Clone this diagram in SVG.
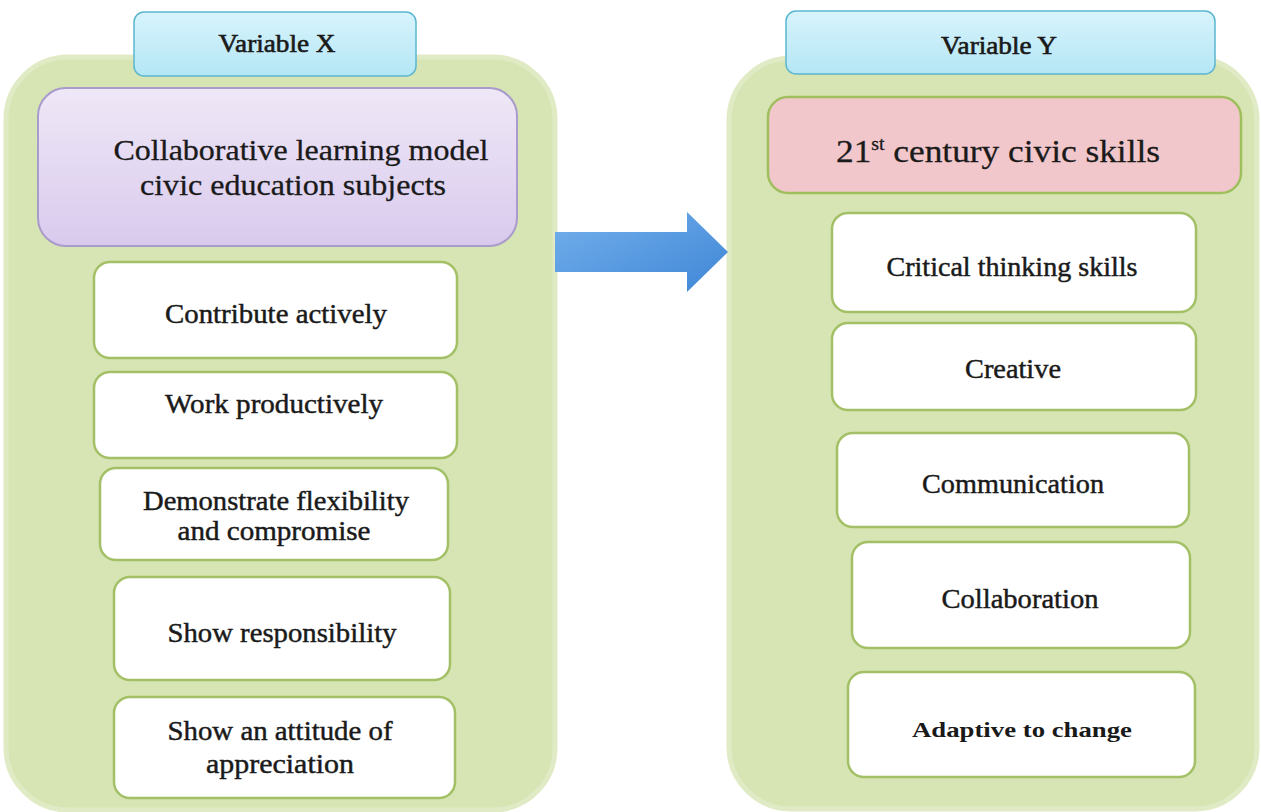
<svg xmlns="http://www.w3.org/2000/svg" width="1261" height="812" viewBox="0 0 1261 812">
  <defs>
    <linearGradient id="gPurple" x1="0" y1="0" x2="0" y2="1">
      <stop offset="0" stop-color="#efe8f7"/>
      <stop offset="1" stop-color="#d9caed"/>
    </linearGradient>
    <linearGradient id="gBlue" x1="0" y1="0" x2="0" y2="1">
      <stop offset="0" stop-color="#d8f4fc"/>
      <stop offset="1" stop-color="#b4e6f5"/>
    </linearGradient>
    <linearGradient id="gArrow" x1="0" y1="0" x2="1" y2="1">
      <stop offset="0" stop-color="#74b0ec"/>
      <stop offset="1" stop-color="#3f86d6"/>
    </linearGradient>
    <style>
      .cont { fill: #d6e5b3; stroke: #e0ebc6; stroke-width: 5; }
      .box { fill: #ffffff; stroke: #a3c066; stroke-width: 2.5; }
      .hdr { fill: url(#gBlue); stroke: #5bb6d0; stroke-width: 1.5; }
      .main { fill: url(#gPurple); stroke: #a99bcb; stroke-width: 2; }
      .pink { fill: #f2c7cb; stroke: #9fbf5e; stroke-width: 2.5; }
      text { font-family: "Liberation Serif", "DejaVu Serif", serif; fill: #1a1a1a; text-anchor: middle; stroke: #1a1a1a; stroke-width: 0.45; }
      .t27 { font-size: 27px; }
      .t29 { font-size: 29px; stroke-width: 0.3; }
      .t25 { font-size: 25px; stroke-width: 0.6; }
    </style>
  </defs>
  <rect width="1261" height="812" fill="#ffffff"/>

  <g id="containerX">
    <rect class="cont" x="6" y="57" width="549" height="753" rx="62"/>
  </g>
  <g id="containerY">
    <rect class="cont" x="729" y="58" width="528" height="751" rx="62"/>
  </g>

  <g id="variableX">
    <rect class="hdr" x="134" y="12" width="282" height="64" rx="10"/>
    <text class="t25" x="277" y="52" textLength="117" lengthAdjust="spacingAndGlyphs">Variable X</text>
  </g>
  <g id="variableY">
    <rect class="hdr" x="786" y="11" width="429" height="63" rx="10"/>
    <text class="t25" x="999" y="54" textLength="116" lengthAdjust="spacingAndGlyphs">Variable Y</text>
  </g>

  <g id="collabModel">
    <rect class="main" x="38" y="88" width="479" height="158" rx="28"/>
    <text class="t29" x="301" y="160" textLength="375" lengthAdjust="spacingAndGlyphs">Collaborative learning model</text>
    <text class="t29" x="293" y="195" textLength="306" lengthAdjust="spacingAndGlyphs">civic education subjects</text>
  </g>

  <g id="civicSkills">
    <rect class="pink" x="768" y="97" width="473" height="96" rx="20"/>
    <text x="998" y="162" style="font-size:32px;stroke-width:0.3" textLength="324" lengthAdjust="spacingAndGlyphs">21<tspan style="font-size:18px" dy="-12">st</tspan><tspan dy="12"> century civic skills</tspan></text>
  </g>

  <g id="contribute">
    <rect class="box" x="94" y="262" width="363" height="96" rx="16"/>
    <text class="t27" x="276" y="323" textLength="222" lengthAdjust="spacingAndGlyphs">Contribute actively</text>
  </g>
  <g id="work">
    <rect class="box" x="94" y="372" width="363" height="86" rx="16"/>
    <text class="t27" x="274" y="413" textLength="218" lengthAdjust="spacingAndGlyphs">Work productively</text>
  </g>
  <g id="demonstrate">
    <rect class="box" x="100" y="468" width="348" height="92" rx="16"/>
    <text class="t27" x="276" y="510" textLength="266" lengthAdjust="spacingAndGlyphs">Demonstrate flexibility</text>
    <text class="t27" x="274" y="540" textLength="193" lengthAdjust="spacingAndGlyphs">and compromise</text>
  </g>
  <g id="responsibility">
    <rect class="box" x="114" y="577" width="336" height="103" rx="16"/>
    <text class="t27" x="282" y="642" textLength="229" lengthAdjust="spacingAndGlyphs">Show responsibility</text>
  </g>
  <g id="appreciation">
    <rect class="box" x="114" y="697" width="341" height="101" rx="16"/>
    <text class="t27" x="280" y="740" textLength="225" lengthAdjust="spacingAndGlyphs">Show an attitude of</text>
    <text class="t27" x="280" y="773" textLength="148" lengthAdjust="spacingAndGlyphs">appreciation</text>
  </g>

  <g id="critical">
    <rect class="box" x="832" y="213" width="364" height="99" rx="16"/>
    <text class="t27" x="1012" y="276" textLength="251" lengthAdjust="spacingAndGlyphs">Critical thinking skills</text>
  </g>
  <g id="creative">
    <rect class="box" x="832" y="323" width="364" height="87" rx="16"/>
    <text class="t27" x="1013" y="378" textLength="96" lengthAdjust="spacingAndGlyphs">Creative</text>
  </g>
  <g id="communication">
    <rect class="box" x="837" y="433" width="352" height="94" rx="16"/>
    <text class="t27" x="1013" y="493" textLength="182" lengthAdjust="spacingAndGlyphs">Communication</text>
  </g>
  <g id="collaboration">
    <rect class="box" x="852" y="542" width="338" height="106" rx="16"/>
    <text class="t27" x="1020" y="608" textLength="157" lengthAdjust="spacingAndGlyphs">Collaboration</text>
  </g>
  <g id="adaptive">
    <rect class="box" x="848" y="672" width="347" height="105" rx="16"/>
    <text x="1022" y="737" style="font-size:22px;font-weight:bold;stroke-width:0" textLength="220" lengthAdjust="spacingAndGlyphs">Adaptive to change</text>
  </g>

  <g id="connectors">
    <path d="M555,232 L687,232 L687,212 L728,252 L687,292 L687,272 L555,272 Z" fill="url(#gArrow)"/>
  </g>
</svg>
